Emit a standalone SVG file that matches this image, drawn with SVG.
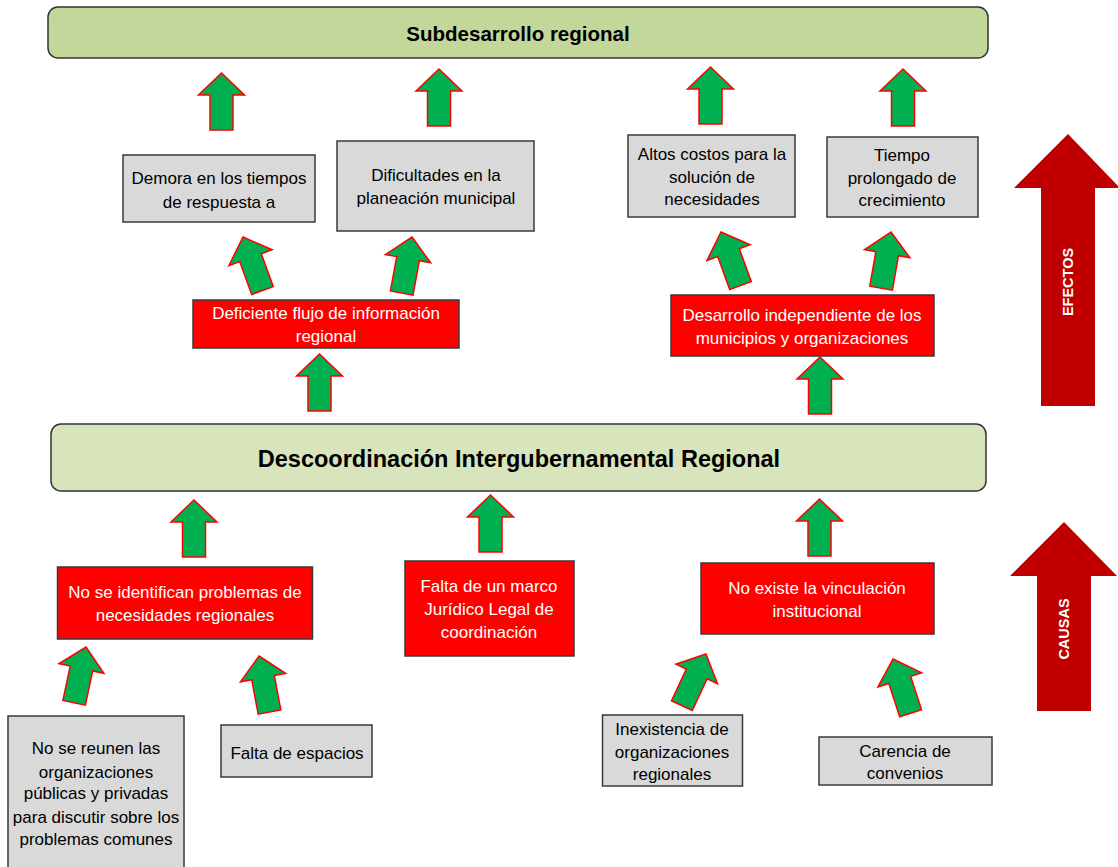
<svg xmlns="http://www.w3.org/2000/svg" width="1118" height="867" viewBox="0 0 1118 867">
<style>
.t{font-family:"Liberation Sans",Arial,sans-serif;font-size:17px;text-anchor:middle}
.w{fill:#ffffff}
.k{fill:#000000}
.title{font-family:"Liberation Sans",Arial,sans-serif;font-weight:bold;text-anchor:middle;fill:#000}
.big{font-family:"Liberation Sans",Arial,sans-serif;font-weight:bold;font-size:14.5px;fill:#fff;text-anchor:middle}
.gray{fill:#d9d9d9;stroke:#3a3a3a;stroke-width:1.5}
.red{fill:#ff0000;stroke:#3a3a3a;stroke-width:1.5}
.ga{fill:#00b050;stroke:#ff0000;stroke-width:1.5;stroke-linejoin:miter}
.ba{fill:#c00000}
</style>
<defs>
<path id="arr" d="M0,0 L23,22 L11.5,22 L11.5,57 L-11.5,57 L-11.5,22 L-23,22 Z"/>
</defs>
<rect width="1118" height="867" fill="#ffffff"/>

<g id="n_subdesarrollo">
<rect x="48" y="7" width="940" height="51" rx="10" fill="#c4d79b" stroke="#333" stroke-width="1.5"/>
<text class="title" x="518" y="41" font-size="20.5">Subdesarrollo regional</text>
</g>

<g id="n_demora">
<rect class="gray" x="123" y="155" width="192" height="67"/>
<text class="t k" x="219" y="184">Demora en los tiempos</text>
<text class="t k" x="219" y="208">de respuesta a</text>
</g>

<g id="n_dificultades">
<rect class="gray" x="337" y="141" width="197" height="90"/>
<text class="t k" x="436" y="181">Dificultades en la</text>
<text class="t k" x="436" y="204">planeación municipal</text>
</g>

<g id="n_altos">
<rect class="gray" x="628" y="135" width="167" height="82"/>
<text class="t k" x="712" y="160">Altos costos para la</text>
<text class="t k" x="712" y="183">solución de</text>
<text class="t k" x="712" y="205">necesidades</text>
</g>

<g id="n_tiempo">
<rect class="gray" x="827" y="137" width="151" height="80"/>
<text class="t k" x="902" y="161">Tiempo</text>
<text class="t k" x="902" y="184">prolongado de</text>
<text class="t k" x="902" y="206">crecimiento</text>
</g>

<g id="n_deficiente">
<rect class="red" x="193" y="300" width="266" height="48"/>
<text class="t w" x="326" y="319">Deficiente flujo de información</text>
<text class="t w" x="326" y="342">regional</text>
</g>

<g id="n_desarrollo">
<rect class="red" x="671" y="295" width="263" height="61"/>
<text class="t w" x="802" y="321">Desarrollo independiente de los</text>
<text class="t w" x="802" y="344">municipios y organizaciones</text>
</g>

<g id="n_descoordinacion">
<rect x="51" y="424" width="935" height="67" rx="10" fill="#d8e4bc" stroke="#333" stroke-width="1.5"/>
<text class="title" x="519" y="467" font-size="23.5">Descoordinación Intergubernamental Regional</text>
</g>

<g id="n_noseidentifican">
<rect class="red" x="57.5" y="567" width="255" height="72"/>
<text class="t w" x="185" y="598">No se identifican problemas de</text>
<text class="t w" x="185" y="621">necesidades regionales</text>
</g>

<g id="n_faltamarco">
<rect class="red" x="405" y="561" width="169" height="95"/>
<text class="t w" x="489" y="592">Falta de un marco</text>
<text class="t w" x="489" y="615">Jurídico Legal de</text>
<text class="t w" x="489" y="638">coordinación</text>
</g>

<g id="n_noexiste">
<rect class="red" x="701" y="563" width="233" height="71"/>
<text class="t w" x="817" y="594">No existe la vinculación</text>
<text class="t w" x="817" y="617">institucional</text>
</g>

<g id="n_noreunen">
<rect class="gray" x="8" y="716" width="176" height="160"/>
<text class="t k" x="96" y="754">No se reunen las</text>
<text class="t k" x="96" y="778">organizaciones</text>
<text class="t k" x="96" y="799">públicas y privadas</text>
<text class="t k" x="96" y="823">para discutir sobre los</text>
<text class="t k" x="96" y="845">problemas comunes</text>
</g>

<g id="n_faltaespacios">
<rect class="gray" x="221" y="725" width="151" height="52"/>
<text class="t k" x="297" y="759">Falta de espacios</text>
</g>

<g id="n_inexistencia">
<rect class="gray" x="602.5" y="715" width="140" height="71"/>
<text class="t k" x="672" y="735">Inexistencia de</text>
<text class="t k" x="672" y="758">organizaciones</text>
<text class="t k" x="672" y="780">regionales</text>
</g>

<g id="n_carencia">
<rect class="gray" x="819" y="737" width="173" height="48"/>
<text class="t k" x="905" y="757">Carencia de</text>
<text class="t k" x="905" y="779">convenios</text>
</g>

<g id="n_efectos">
<path class="ba" d="M1068,134 L1120,188 L1095,188 L1095,406 L1041,406 L1041,188 L1014,188 Z"/>
<text class="big" transform="translate(1073,282) rotate(-90)">EFECTOS</text>
</g>

<g id="n_causas">
<path class="ba" d="M1064,522 L1117,576 L1091,576 L1091,711 L1037,711 L1037,576 L1010,576 Z"/>
<text class="big" transform="translate(1069,629) rotate(-90)">CAUSAS</text>
</g>

<g id="connectors">
<use href="#arr" class="ga" transform="translate(221.5,73)"/>
<use href="#arr" class="ga" transform="translate(439,69)"/>
<use href="#arr" class="ga" transform="translate(710.5,67)"/>
<use href="#arr" class="ga" transform="translate(903,69)"/>
<use href="#arr" class="ga" transform="translate(243,237) rotate(-20)"/>
<use href="#arr" class="ga" transform="translate(412,237) rotate(10.4)"/>
<use href="#arr" class="ga" transform="translate(721,232) rotate(-20)"/>
<use href="#arr" class="ga" transform="translate(891,232) rotate(10)"/>
<use href="#arr" class="ga" transform="translate(319.5,354)"/>
<use href="#arr" class="ga" transform="translate(820,357)"/>
<use href="#arr" class="ga" transform="translate(194,500)"/>
<use href="#arr" class="ga" transform="translate(490.5,495)"/>
<use href="#arr" class="ga" transform="translate(819.5,499)"/>
<use href="#arr" class="ga" transform="translate(86,647) rotate(12)"/>
<use href="#arr" class="ga" transform="translate(259,656) rotate(-10.6)"/>
<use href="#arr" class="ga" transform="translate(706,654) rotate(25)"/>
<use href="#arr" class="ga" transform="translate(893,659) rotate(-18)"/>
</g>
</svg>
